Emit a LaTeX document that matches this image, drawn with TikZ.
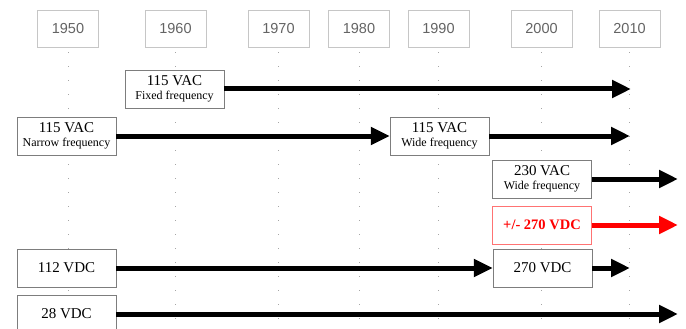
\documentclass[tikz,border=0pt]{standalone}
\usepackage{fontspec}
\setmainfont{Liberation Serif}
\newfontfamily\yearfont{Liberation Sans}
\definecolor{yeargray}{RGB}{100,100,100}
\definecolor{boxgray}{RGB}{125,125,125}
\definecolor{hvdcred}{RGB}{255,0,0}
\usetikzlibrary{arrows.meta}
\usetikzlibrary{positioning}
\tikzset{
  year/.style={draw=gray!45, text=yeargray, minimum width=61pt, minimum height=37pt, font=\yearfont\fontsize{14.5}{16}\selectfont},
  volt/.style={draw=boxgray, fill=white, align=center, minimum width=99pt, minimum height=38pt, inner sep=1pt, font=\fontsize{15}{15}\selectfont},
  flow/.style={line width=5pt, -{Triangle[length=19pt,width=17pt]}},
  yearline/.style={gray!70, line width=0.6pt, dash pattern=on 0.7pt off 13.3pt}
}

\begin{document}
\begin{tikzpicture}[x=1pt, y=-1pt]
  \useasboundingbox (0,0) rectangle (686,329);
  \coordinate (bottom) at (0,329);

  % decades
  \foreach \yr/\xpos in {1950/68, 1960/175.5, 1970/278.5, 1980/359, 1990/438.5, 2000/541.5, 2010/629.5} {
    \node[year] (y\yr) at (\xpos,28.5) {\yr};
    \draw[yearline] ([yshift=-5pt]y\yr.south) -- (y\yr.south |- bottom);
  }

  % AC network
  \node[volt] (fixed) at (174.5,89) {115 VAC\\[-1pt]{\fontsize{12}{13}\selectfont Fixed frequency}};
  \node[volt] (narrow) at (66.5,136) {115 VAC\\[-1pt]{\fontsize{12}{13}\selectfont Narrow frequency}};
  \node[volt] (wide) at (439.5,136) {115 VAC\\[-1pt]{\fontsize{12}{13}\selectfont Wide frequency}};
  \node[volt] (wide230) at (542,179) {230 VAC\\[-1pt]{\fontsize{12}{13}\selectfont Wide frequency}};

  % DC network
  \node[volt, draw=hvdcred!55, text=hvdcred, font=\bfseries\fontsize{14.5}{15}\selectfont] (hvdc) at (542,225) {+/- 270 VDC};
  \node[volt] (dc112) at (66.5,268) {112 VDC};
  \node[volt] (dc270) at (542.5,268) {270 VDC};
  \node[volt] (dc28) at (66.5,314) {28 VDC};

  \coordinate (endfixed) at (631,89);
  \coordinate (endwide) at (630,136);
  \coordinate (end230) at (678,179);
  \coordinate (endhvdc) at (678,225);
  \coordinate (end270) at (630,268);
  \coordinate (end28) at (678,314);

  \draw[flow] (fixed.east) -- (endfixed);
  \draw[flow] (narrow.east) -- (wide.west);
  \draw[flow] (wide.east) -- (endwide);
  \draw[flow] (wide230.east) -- (end230);
  \draw[flow, hvdcred] (hvdc.east) -- (endhvdc);
  \draw[flow] (dc112.east) -- (dc270.west);
  \draw[flow] (dc270.east) -- (end270);
  \draw[flow] (dc28.east) -- (end28);
\end{tikzpicture}
\end{document}
